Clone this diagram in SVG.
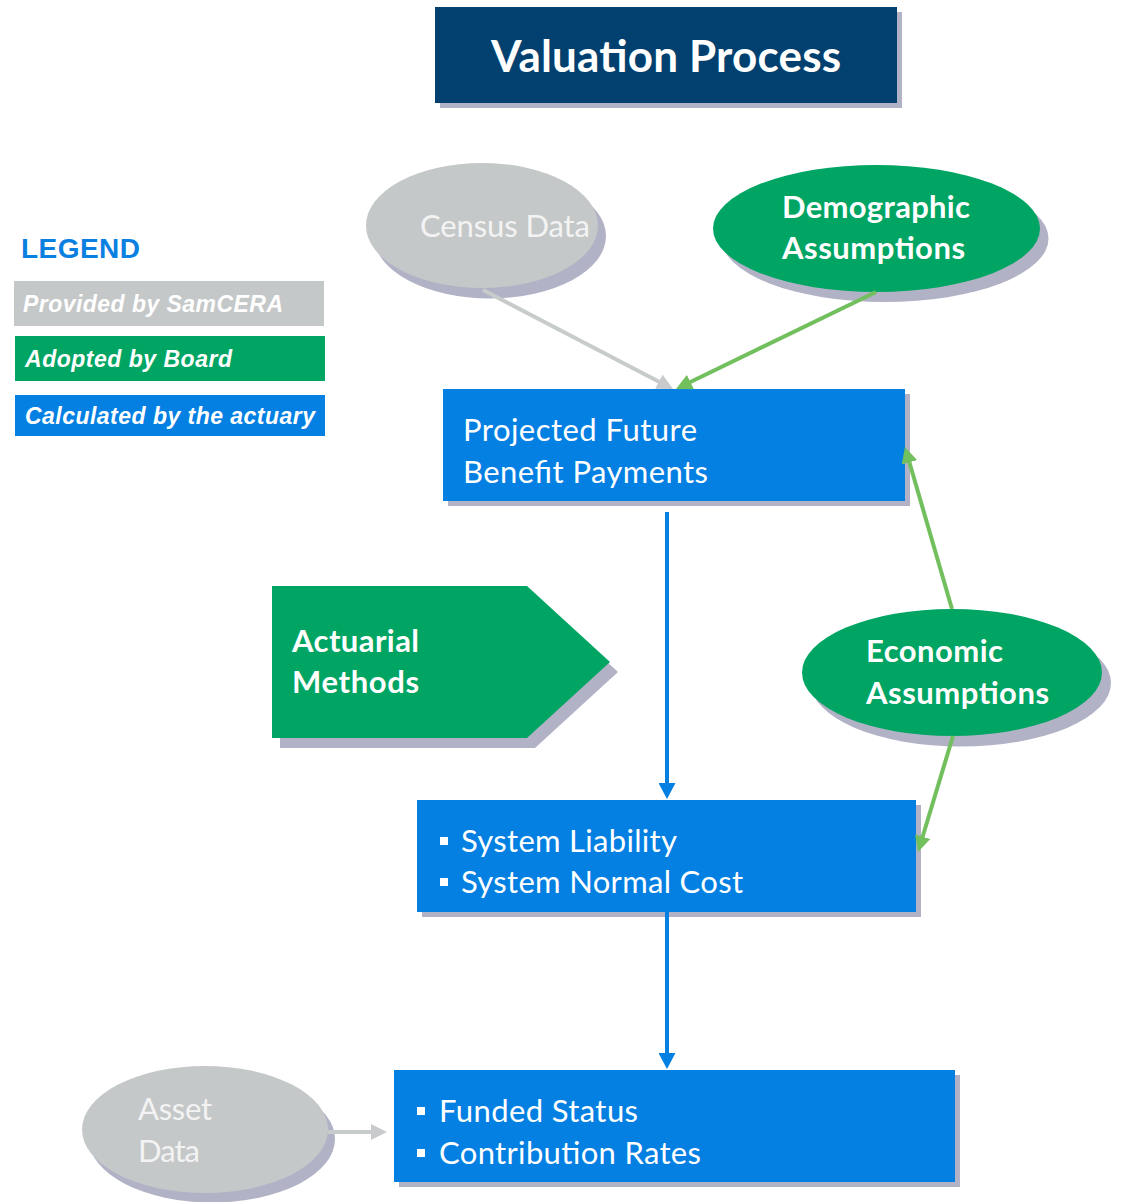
<svg xmlns="http://www.w3.org/2000/svg" width="1125" height="1202" viewBox="0 0 1125 1202">
<style>
.shadow{fill:#B1B2C6}
.navy{fill:#02416F}
.blue{fill:#0480E3}
.green{fill:#00A564}
.gray{fill:#C5C8C8}
.t{font-family:Lato,"Open Sans","Liberation Sans",sans-serif;font-size:31px;fill:#FFFFFF}
.tb{font-family:Lato,"Open Sans","Liberation Sans",sans-serif;font-size:31px;font-weight:bold;fill:#FFFFFF}
.tg{font-family:Lato,"Open Sans","Liberation Sans",sans-serif;font-size:31px;fill:#F3F3F3}
.leg{font-family:"Liberation Sans",Arial,sans-serif;font-size:23px;font-weight:bold;font-style:italic;fill:#FFFFFF}
.bullet{fill:#FFFFFF}
.cg{stroke:#C8CBCB;stroke-width:4;fill:none}
.cgr{stroke:#72BF5E;stroke-width:4;fill:none}
.cb{stroke:#0480E3;stroke-width:4;fill:none}
</style>
<defs>
<marker id="ah-gray" markerUnits="userSpaceOnUse" markerWidth="16" markerHeight="16" viewBox="0 0 16 16" refX="4" refY="8" orient="auto"><path d="M0,0 L16,8 L0,16 z" fill="#C8CBCB"/></marker>
<marker id="ah-green" markerUnits="userSpaceOnUse" markerWidth="16" markerHeight="16" viewBox="0 0 16 16" refX="4" refY="8" orient="auto"><path d="M0,0 L16,8 L0,16 z" fill="#72BF5E"/></marker>
<marker id="ah-blue" markerUnits="userSpaceOnUse" markerWidth="16" markerHeight="17" viewBox="0 0 16 17" refX="4" refY="8.5" orient="auto"><path d="M0,0 L16,8.5 L0,17 z" fill="#0480E3"/></marker>
</defs>
<rect width="1125" height="1202" fill="#FFFFFF"/>

<g id="title">
<rect class="shadow" x="440" y="12" width="462" height="96"/>
<rect class="navy" x="435" y="7" width="462" height="96"/>
<text class="tb" x="491" y="72" style="font-size:44px" textLength="350">Valuation Process</text>
</g>

<g id="legend">
<text x="21" y="258" style="font-family:'Liberation Sans',Arial,sans-serif;font-size:28px;font-weight:bold;fill:#0A80E0" textLength="119">LEGEND</text>
<rect class="gray" x="14" y="281" width="310" height="45"/>
<text class="leg" x="23" y="312" textLength="260">Provided by SamCERA</text>
<rect class="green" x="15" y="336" width="310" height="45"/>
<text class="leg" x="25" y="367" textLength="207">Adopted by Board</text>
<rect class="blue" x="15" y="395" width="310" height="41"/>
<text class="leg" x="25" y="424" textLength="290">Calculated by the actuary</text>
</g>

<g id="census">
<ellipse class="shadow" cx="490" cy="236" rx="116" ry="62.5"/>
<ellipse class="gray" cx="482" cy="225.5" rx="116" ry="62.5"/>
<text class="tg" x="420" y="237" textLength="170">Census Data</text>
</g>

<g id="demographic">
<ellipse class="shadow" cx="885" cy="238.5" rx="163.5" ry="63.5"/>
<ellipse class="green" cx="876.5" cy="228.5" rx="163.5" ry="63.5"/>
<text class="tb" x="782" y="218" textLength="188">Demographic</text>
<text class="tb" x="782" y="259" textLength="183">Assumptions</text>
</g>

<g id="projected">
<rect class="shadow" x="448" y="394" width="462" height="112"/>
<rect class="blue" x="443" y="389" width="462" height="112"/>
<text class="t" x="463" y="441" textLength="234">Projected Future</text>
<text class="t" x="463" y="483" textLength="245">Benefit Payments</text>
</g>

<g id="actuarial">
<polygon class="shadow" points="280,596 535,596 618,672 535,748 280,748"/>
<polygon class="green" points="272,586 527,586 610,662 527,738 272,738"/>
<text class="tb" x="292" y="652" textLength="127">Actuarial</text>
<text class="tb" x="292" y="693" textLength="127">Methods</text>
</g>

<g id="economic">
<ellipse class="shadow" cx="961" cy="683" rx="150" ry="63.5"/>
<ellipse class="green" cx="952" cy="672.5" rx="150" ry="63.5"/>
<text class="tb" x="866" y="662" textLength="137">Economic</text>
<text class="tb" x="866" y="704" textLength="183">Assumptions</text>
</g>

<g id="system">
<rect class="shadow" x="422" y="805" width="499" height="112"/>
<rect class="blue" x="417" y="800" width="499" height="112"/>
<rect class="bullet" x="440" y="837" width="8" height="8"/>
<text class="t" x="461" y="852" textLength="216">System Liability</text>
<rect class="bullet" x="440" y="878" width="8" height="8"/>
<text class="t" x="461" y="893" textLength="282">System Normal Cost</text>
</g>

<g id="asset">
<ellipse class="shadow" cx="212" cy="1139" rx="123" ry="63.5"/>
<ellipse class="gray" cx="205" cy="1129.5" rx="123" ry="63.5"/>
<text class="tg" x="138" y="1120" textLength="74">Asset</text>
<text class="tg" x="138" y="1162" textLength="62">Data</text>
</g>

<g id="funded">
<rect class="shadow" x="399" y="1075" width="561" height="112"/>
<rect class="blue" x="394" y="1070" width="561" height="112"/>
<rect class="bullet" x="417" y="1107" width="8" height="8"/>
<text class="t" x="439" y="1122" textLength="199">Funded Status</text>
<rect class="bullet" x="417" y="1149" width="8" height="8"/>
<text class="t" x="439" y="1164" textLength="262">Contribution Rates</text>
</g>

<g id="connectors">
<line class="cg" x1="483" y1="290" x2="662.4" y2="383.5" marker-end="url(#ah-gray)"/>
<line class="cgr" x1="876" y1="292" x2="686.8" y2="383.8" marker-end="url(#ah-green)"/>
<line class="cb" x1="667" y1="512" x2="667" y2="787" marker-end="url(#ah-blue)"/>
<line class="cgr" x1="952" y1="609" x2="908.3" y2="458.5" marker-end="url(#ah-green)"/>
<line class="cgr" x1="953" y1="736" x2="921.5" y2="840.5" marker-end="url(#ah-green)"/>
<line class="cb" x1="667" y1="912" x2="667" y2="1057" marker-end="url(#ah-blue)"/>
<line class="cg" x1="328" y1="1132" x2="375" y2="1132" marker-end="url(#ah-gray)"/>
</g>
</svg>
